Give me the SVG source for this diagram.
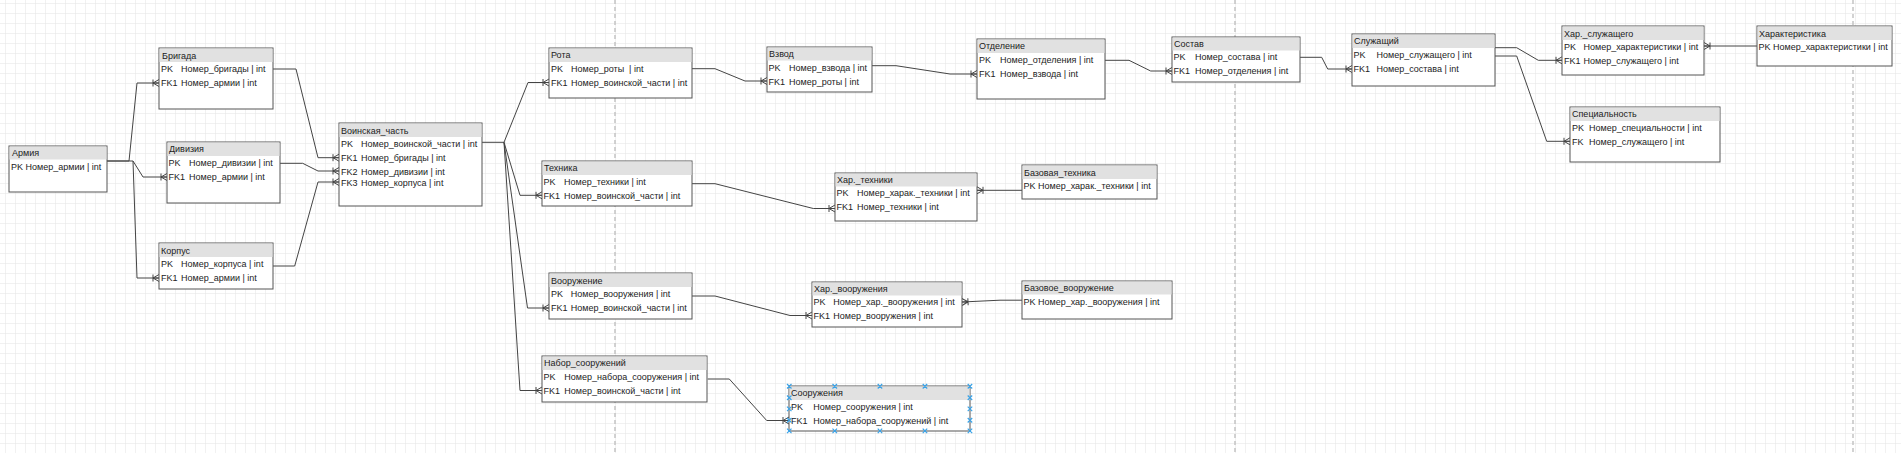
<svg xmlns="http://www.w3.org/2000/svg" width="1901" height="453" viewBox="0 0 1901 453">
<style>
.box{fill:#fff;stroke:#555;stroke-width:1}
.hdr{fill:#e1e1e1}
.t{font-family:"Liberation Sans",Arial,sans-serif;font-size:9px;fill:#222}
.c{fill:none;stroke:#444;stroke-width:1}
.pb{stroke:#c4c4c4;stroke-width:1.5;stroke-dasharray:4 3}
.sel{stroke:#3aa3e8;stroke-width:1.2}
</style>
<defs>
<pattern id="grid" x="5" y="3" width="10" height="10" patternUnits="userSpaceOnUse">
<path d="M0,0 H10 M0,0 V10" fill="none" stroke="#e3e3e3" stroke-width="1"/>
</pattern>
<marker id="many" viewBox="-8 -5 9 10" refX="0" refY="0" markerWidth="9" markerHeight="10" markerUnits="userSpaceOnUse" orient="auto">
<path d="M-6,-3.5 L-6,3.5 M-6,0 L0,-3.5 M-6,0 L0,3.5 M-6,0 L0,0" fill="none" stroke="#444" stroke-width="1"/>
</marker>
</defs>
<rect width="1901" height="453" fill="#fff"/>
<rect width="1901" height="453" fill="url(#grid)"/>
<line class="pb" x1="615" y1="0" x2="615" y2="453"/>
<line class="pb" x1="1235" y1="0" x2="1235" y2="453"/>
<line class="pb" x1="1853" y1="0" x2="1853" y2="453"/>

<g id="connectors">
<path class="c" marker-end="url(#many)" d="M107,161 H129 L137,83 H159"/>
<path class="c" marker-end="url(#many)" d="M107,161 H133 L143,177 H167"/>
<path class="c" marker-end="url(#many)" d="M133,161 L137,278 H159"/>
<path class="c" marker-end="url(#many)" d="M273,69 H296 L318,157.7 H339"/>
<path class="c" marker-end="url(#many)" d="M280,163.3 H302.7 L318,171 H339"/>
<path class="c" marker-end="url(#many)" d="M273,266 H294.7 L318,182 H339"/>
<path class="c" marker-end="url(#many)" d="M482,142.3 H504 L528,82.5 H549"/>
<path class="c" marker-end="url(#many)" d="M504,142.3 L520,195.3 H542"/>
<path class="c" marker-end="url(#many)" d="M504,142.3 L527.5,308 H549"/>
<path class="c" marker-end="url(#many)" d="M504,142.3 L520,390.5 H542"/>
<path class="c" marker-end="url(#many)" d="M692,68.7 H715 L745,81 H767"/>
<path class="c" marker-end="url(#many)" d="M872,65.7 H896 L950,74 H977"/>
<path class="c" marker-end="url(#many)" d="M1105,60.3 H1129 L1150.7,71 H1172"/>
<path class="c" marker-end="url(#many)" d="M1300,57.3 H1321.7 L1327.7,69 H1352"/>
<path class="c" marker-end="url(#many)" d="M1495,47.7 H1516.7 L1538.3,60.3 H1562"/>
<path class="c" marker-end="url(#many)" d="M1495,56 H1516.7 L1546.7,141.3 H1570"/>
<path class="c" marker-end="url(#many)" d="M1757,46 H1704"/>
<path class="c" marker-end="url(#many)" d="M692,183.7 H715 L813.3,208.5 H835"/>
<path class="c" marker-end="url(#many)" d="M1022,190.3 H977"/>
<path class="c" marker-end="url(#many)" d="M692,296 H715 L790,315.5 H812"/>
<path class="c" marker-end="url(#many)" d="M1022,300.2 H1000 L962,302"/>
<path class="c" marker-end="url(#many)" d="M707.7,379 H729.3 L766.7,420.5 H789"/>
</g>

<g id="n-armiya">
<rect class="box" x="9" y="146" width="98" height="46"/>
<rect class="hdr" x="9.5" y="146.5" width="97" height="13"/>
<text class="t" x="12" y="156">Армия</text>
<text class="t" x="11" y="170">PK Номер_армии | int</text>
</g>

<g id="n-brigada">
<rect class="box" x="159" y="48" width="114" height="61"/>
<rect class="hdr" x="159.5" y="48.5" width="113" height="13.5"/>
<text class="t" x="162" y="58.5">Бригада</text>
<text class="t" x="161" y="72">PK</text><text class="t" x="181" y="72">Номер_бригады | int</text>
<text class="t" x="161" y="86">FK1</text><text class="t" x="181" y="86">Номер_армии | int</text>
</g>

<g id="n-diviziya">
<rect class="box" x="167" y="142" width="113" height="61"/>
<rect class="hdr" x="167.5" y="142.5" width="112" height="13.5"/>
<text class="t" x="169" y="152">Дивизия</text>
<text class="t" x="168.5" y="166">PK</text><text class="t" x="189" y="166">Номер_дивизии | int</text>
<text class="t" x="168.5" y="180">FK1</text><text class="t" x="189" y="180">Номер_армии | int</text>
</g>

<g id="n-korpus">
<rect class="box" x="159" y="243" width="114" height="46"/>
<rect class="hdr" x="159.5" y="243.5" width="113" height="13.5"/>
<text class="t" x="161" y="253.5">Корпус</text>
<text class="t" x="161" y="267">PK</text><text class="t" x="181" y="267">Номер_корпуса | int</text>
<text class="t" x="161" y="281">FK1</text><text class="t" x="181" y="281">Номер_армии | int</text>
</g>

<g id="n-voinskaya-chast">
<rect class="box" x="339" y="123" width="143" height="83"/>
<rect class="hdr" x="339.5" y="123.5" width="142" height="13.5"/>
<text class="t" x="341" y="133.5">Воинская_часть</text>
<text class="t" x="341" y="146.5">PK</text><text class="t" x="361" y="146.5">Номер_воинской_части | int</text>
<text class="t" x="341" y="160.7">FK1</text><text class="t" x="361" y="160.7">Номер_бригады | int</text>
<text class="t" x="341" y="174.5">FK2</text><text class="t" x="361" y="174.5">Номер_дивизии | int</text>
<text class="t" x="341" y="186">FK3</text><text class="t" x="361" y="186">Номер_корпуса | int</text>
</g>

<g id="n-rota">
<rect class="box" x="549" y="48" width="143" height="50"/>
<rect class="hdr" x="549.5" y="48.5" width="142" height="13.5"/>
<text class="t" x="551" y="58">Рота</text>
<text class="t" x="551" y="72">PK</text><text class="t" x="571" y="72" xml:space="preserve">Номер_роты  | int</text>
<text class="t" x="551" y="86">FK1</text><text class="t" x="571" y="86">Номер_воинской_части | int</text>
</g>

<g id="n-vzvod">
<rect class="box" x="767" y="47" width="105" height="45"/>
<rect class="hdr" x="767.5" y="47.5" width="104" height="13"/>
<text class="t" x="769" y="57">Взвод</text>
<text class="t" x="768.5" y="70.7">PK</text><text class="t" x="789" y="70.7">Номер_взвода | int</text>
<text class="t" x="768.5" y="84.7">FK1</text><text class="t" x="789" y="84.7">Номер_роты | int</text>
</g>

<g id="n-otdelenie">
<rect class="box" x="977" y="39" width="128" height="60"/>
<rect class="hdr" x="977.5" y="39.5" width="127" height="13.5"/>
<text class="t" x="979" y="49">Отделение</text>
<text class="t" x="979" y="62.7">PK</text><text class="t" x="1000" y="62.7">Номер_отделения | int</text>
<text class="t" x="979" y="76.7">FK1</text><text class="t" x="1000" y="76.7">Номер_взвода | int</text>
</g>

<g id="n-sostav">
<rect class="box" x="1172" y="37" width="128" height="45"/>
<rect class="hdr" x="1172.5" y="37.5" width="127" height="13"/>
<text class="t" x="1174" y="46.5">Состав</text>
<text class="t" x="1173.5" y="59.7">PK</text><text class="t" x="1195" y="59.7">Номер_состава | int</text>
<text class="t" x="1173.5" y="73.7">FK1</text><text class="t" x="1195" y="73.7">Номер_отделения | int</text>
</g>

<g id="n-sluzhashchiy">
<rect class="box" x="1352" y="34" width="143" height="52"/>
<rect class="hdr" x="1352.5" y="34.5" width="142" height="13.5"/>
<text class="t" x="1354" y="44">Служащий</text>
<text class="t" x="1353.5" y="57.7">PK</text><text class="t" x="1376.5" y="57.7">Номер_служащего | int</text>
<text class="t" x="1353.5" y="72">FK1</text><text class="t" x="1376.5" y="72">Номер_состава | int</text>
</g>

<g id="n-har-sluzhashchego">
<rect class="box" x="1562" y="26" width="142" height="49"/>
<rect class="hdr" x="1562.5" y="26.5" width="141" height="13.5"/>
<text class="t" x="1564" y="36.5">Хар._служащего</text>
<text class="t" x="1564" y="50">PK</text><text class="t" x="1583.5" y="50">Номер_характеристики | int</text>
<text class="t" x="1564" y="64">FK1</text><text class="t" x="1583.5" y="64">Номер_служащего | int</text>
</g>

<g id="n-harakteristika">
<rect class="box" x="1757" y="26" width="135" height="40"/>
<rect class="hdr" x="1757.5" y="26.5" width="134" height="13.5"/>
<text class="t" x="1759" y="36.5">Характеристика</text>
<text class="t" x="1758.5" y="50">PK Номер_характеристики | int</text>
</g>

<g id="n-specialnost">
<rect class="box" x="1570" y="107" width="150" height="55"/>
<rect class="hdr" x="1570.5" y="107.5" width="149" height="13.5"/>
<text class="t" x="1572" y="117">Специальность</text>
<text class="t" x="1572" y="130.7">PK</text><text class="t" x="1589" y="130.7">Номер_специальности | int</text>
<text class="t" x="1572" y="144.7">FK</text><text class="t" x="1589" y="144.7">Номер_служащего | int</text>
</g>

<g id="n-tehnika">
<rect class="box" x="542" y="161" width="150" height="45"/>
<rect class="hdr" x="542.5" y="161.5" width="149" height="13.5"/>
<text class="t" x="544" y="171">Техника</text>
<text class="t" x="543.5" y="185">PK</text><text class="t" x="564" y="185">Номер_техники | int</text>
<text class="t" x="543.5" y="198.5">FK1</text><text class="t" x="564" y="198.5">Номер_воинской_части | int</text>
</g>

<g id="n-har-tehniki">
<rect class="box" x="835" y="173" width="142" height="48"/>
<rect class="hdr" x="835.5" y="173.5" width="141" height="13"/>
<text class="t" x="837" y="182.5">Хар._техники</text>
<text class="t" x="836.5" y="195.7">PK</text><text class="t" x="857" y="195.7">Номер_харак._техники | int</text>
<text class="t" x="836.5" y="209.7">FK1</text><text class="t" x="857" y="209.7">Номер_техники | int</text>
</g>

<g id="n-bazovaya-tehnika">
<rect class="box" x="1022" y="165" width="135" height="34"/>
<rect class="hdr" x="1022.5" y="165.5" width="134" height="13.5"/>
<text class="t" x="1024" y="175.5">Базовая_техника</text>
<text class="t" x="1023.5" y="188.5">PK Номер_харак._техники | int</text>
</g>

<g id="n-vooruzhenie">
<rect class="box" x="549" y="273" width="143" height="46"/>
<rect class="hdr" x="549.5" y="273.5" width="142" height="13.5"/>
<text class="t" x="551" y="283.5">Вооружение</text>
<text class="t" x="551" y="296.7">PK</text><text class="t" x="570.7" y="296.7">Номер_вооружения | int</text>
<text class="t" x="551" y="311">FK1</text><text class="t" x="570.7" y="311">Номер_воинской_части | int</text>
</g>

<g id="n-har-vooruzheniya">
<rect class="box" x="812" y="282" width="150" height="45"/>
<rect class="hdr" x="812.5" y="282.5" width="149" height="13"/>
<text class="t" x="814" y="291.5">Хар._вооружения</text>
<text class="t" x="813.5" y="304.7">PK</text><text class="t" x="833.3" y="304.7">Номер_хар._вооружения | int</text>
<text class="t" x="813.5" y="318.7">FK1</text><text class="t" x="833.3" y="318.7">Номер_вооружения | int</text>
</g>

<g id="n-bazovoe-vooruzhenie">
<rect class="box" x="1022" y="281" width="150" height="38"/>
<rect class="hdr" x="1022.5" y="281.5" width="149" height="13"/>
<text class="t" x="1024" y="290.7">Базовое_вооружение</text>
<text class="t" x="1023.5" y="305">PK Номер_хар._вооружения | int</text>
</g>

<g id="n-nabor-sooruzheniy">
<rect class="box" x="542" y="356" width="165" height="46"/>
<rect class="hdr" x="542.5" y="356.5" width="164" height="13.5"/>
<text class="t" x="544" y="366.3">Набор_сооружений</text>
<text class="t" x="543.5" y="379.7">PK</text><text class="t" x="564.3" y="379.7">Номер_набора_сооружения | int</text>
<text class="t" x="543.5" y="393.7">FK1</text><text class="t" x="564.3" y="393.7">Номер_воинской_части | int</text>
</g>

<g id="n-sooruzheniya">
<rect class="box" x="789" y="386" width="181" height="45"/>
<rect class="hdr" x="789.5" y="386.5" width="180" height="13.5"/>
<text class="t" x="791" y="396">Сооружения</text>
<text class="t" x="791" y="410">PK</text><text class="t" x="813.3" y="410">Номер_сооружения | int</text>
<text class="t" x="791" y="424">FK1</text><text class="t" x="813.3" y="424">Номер_набора_сооружений | int</text>
<g class="sel">
<path d="M787,384 l4.5,4.5 m0,-4.5 l-4.5,4.5 M832.5,384 l4.5,4.5 m0,-4.5 l-4.5,4.5 M877.7,384 l4.5,4.5 m0,-4.5 l-4.5,4.5 M922.7,384 l4.5,4.5 m0,-4.5 l-4.5,4.5 M967.7,384 l4.5,4.5 m0,-4.5 l-4.5,4.5"/>
<path d="M787,428.7 l4.5,4.5 m0,-4.5 l-4.5,4.5 M832.5,428.7 l4.5,4.5 m0,-4.5 l-4.5,4.5 M877.7,428.7 l4.5,4.5 m0,-4.5 l-4.5,4.5 M922.7,428.7 l4.5,4.5 m0,-4.5 l-4.5,4.5 M967.7,428.7 l4.5,4.5 m0,-4.5 l-4.5,4.5"/>
<path d="M787,395.5 l4.5,4.5 m0,-4.5 l-4.5,4.5 M787,406.7 l4.5,4.5 m0,-4.5 l-4.5,4.5 M787,418 l4.5,4.5 m0,-4.5 l-4.5,4.5"/>
<path d="M967.7,395.5 l4.5,4.5 m0,-4.5 l-4.5,4.5 M967.7,406.7 l4.5,4.5 m0,-4.5 l-4.5,4.5 M967.7,418 l4.5,4.5 m0,-4.5 l-4.5,4.5"/>
</g>
</g>
</svg>
